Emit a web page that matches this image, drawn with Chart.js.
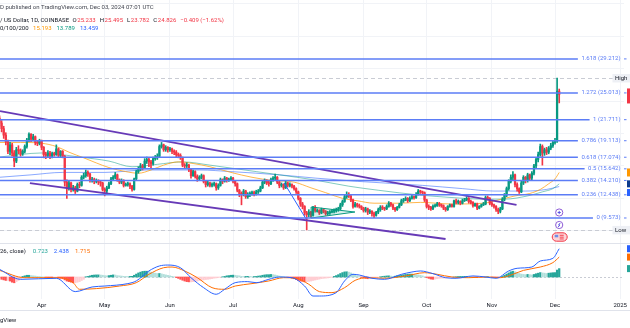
<!DOCTYPE html>
<html lang="en">
<head>
<meta charset="UTF-8">
<title>LINK / US Dollar, 1D</title>
<script src="https://cdn.jsdelivr.net/npm/chart.js"></script>
<style>
  html, body { margin: 0; padding: 0; background: #fff; }
  #wrap { width: 630px; height: 328px; }
</style>
</head>
<body>
<div id="wrap"><canvas id="chart" width="630" height="328"></canvas></div>
<script>
// x values are day numbers, day 0 = 2024-03-12
const monthTicks  = [20, 50, 81, 111, 142, 173, 203, 234, 264, 295];
const monthLabels = ['Apr', 'May', 'Jun', 'Jul', 'Aug', 'Sep', 'Oct', 'Nov', 'Dec', '2025'];

const opens = [
  21.9, 21.3, 20.6, 19.8, 19.0, 17.8, 18.6, 17.6, 16.6, 18.0,
  17.9, 17.5, 17.8, 18.4, 19.2, 19.9, 19.3, 19.6, 18.9, 18.8,
  19.1, 18.3, 17.4, 17.3, 17.6, 17.2, 17.5, 17.4, 18.1, 17.3,
  17.8, 17.2, 14.0, 13.3, 13.9, 13.1, 13.3, 12.9, 13.7, 13.6,
  14.6, 14.8, 15.2, 15.0, 14.2, 14.3, 14.1, 14.2, 14.0, 13.9,
  13.1, 12.9, 13.3, 13.8, 14.4, 14.6, 14.9, 14.3, 14.0, 14.2,
  13.6, 13.7, 13.8, 13.5, 13.1, 14.4, 15.3, 15.6, 16.0, 15.8,
  16.6, 16.8, 16.5, 16.3, 16.9, 17.0, 17.2, 18.4, 18.6, 18.0,
  18.3, 18.0, 18.1, 17.8, 17.7, 17.4, 17.3, 17.0, 16.1, 16.0,
  16.1, 15.6, 14.8, 15.3, 14.7, 14.4, 14.6, 14.8, 14.1, 13.7,
  13.9, 13.6, 13.7, 13.8, 13.3, 13.6, 14.3, 14.1, 14.5, 14.2,
  14.3, 14.5, 14.1, 13.8, 13.0, 12.6, 12.5, 12.9, 12.2, 12.5,
  12.6, 12.7, 12.5, 12.8, 12.9, 13.3, 14.0, 14.2, 13.9, 13.8,
  14.3, 14.5, 14.6, 14.0, 13.6, 13.7, 13.3, 13.9, 13.6, 13.7,
  13.5, 13.2, 12.8, 12.0, 11.3, 11.0, 10.2, 10.0, 10.3, 9.9,
  10.9, 10.5, 10.5, 10.2, 10.6, 10.4, 10.1, 10.2, 10.3, 10.4,
  10.5, 10.6, 10.7, 11.2, 11.6, 12.2, 12.5, 12.3, 11.8, 11.0,
  11.3, 11.1, 11.0, 10.8, 10.5, 10.7, 10.3, 10.4, 10.1, 9.9,
  10.3, 10.6, 10.9, 10.8, 10.7, 11.0, 11.4, 11.2, 10.8, 10.6,
  10.9, 11.2, 11.7, 11.8, 12.0, 11.7, 12.0, 12.2, 12.1, 12.5,
  12.9, 12.8, 12.7, 11.8, 11.0, 10.9, 10.7, 11.0, 11.1, 11.3,
  11.2, 11.1, 10.8, 10.6, 11.0, 11.2, 11.0, 11.7, 11.5, 11.6,
  11.4, 11.7, 11.8, 12.0, 11.6, 11.5, 11.1, 11.3, 10.8, 11.0,
  11.2, 11.3, 12.1, 12.0, 11.4, 11.2, 11.0, 10.6, 10.4, 10.7,
  11.9, 12.4, 13.2, 14.1, 14.6, 14.9, 13.7, 13.2, 12.8, 13.9,
  14.6, 14.2, 14.9, 14.5, 15.1, 16.0, 16.8, 17.4, 18.4, 17.6,
  18.0, 17.7, 18.2, 18.5, 18.9, 19.1, 25.233
];
const highs = [
  22.2, 21.6, 20.9, 20.1, 19.2, 18.9, 18.8, 17.9, 18.3, 18.5,
  18.1, 18.0, 18.6, 19.4, 20.1, 20.0, 19.9, 19.7, 19.1, 19.3,
  19.2, 18.4, 17.7, 17.9, 17.8, 17.7, 17.7, 18.6, 18.2, 17.9,
  17.9, 17.3, 14.3, 14.2, 14.0, 13.6, 13.5, 13.9, 14.0, 14.8,
  15.1, 15.5, 15.4, 15.1, 14.6, 14.5, 14.4, 14.3, 14.2, 14.0,
  13.3, 13.5, 14.0, 14.6, 14.8, 15.2, 15.0, 14.4, 14.4, 14.3,
  13.9, 14.0, 13.9, 13.6, 14.5, 15.5, 15.9, 16.3, 16.2, 16.9,
  17.1, 17.0, 16.7, 17.1, 17.3, 17.5, 18.6, 18.9, 18.7, 18.5,
  18.4, 18.3, 18.2, 18.0, 17.9, 17.6, 17.5, 17.1, 16.3, 16.4,
  16.2, 15.7, 15.5, 15.4, 14.9, 14.8, 15.0, 14.9, 14.2, 14.2,
  14.0, 13.9, 14.0, 13.9, 13.8, 14.5, 14.4, 14.7, 14.6, 14.5,
  14.7, 14.6, 14.2, 13.9, 13.1, 12.8, 13.1, 13.0, 12.7, 12.8,
  12.9, 12.9, 13.0, 13.1, 13.5, 14.2, 14.4, 14.3, 14.1, 14.5,
  14.7, 15.0, 14.7, 14.1, 13.9, 13.8, 14.1, 14.0, 13.9, 13.8,
  13.6, 13.3, 12.9, 12.1, 11.5, 11.1, 10.4, 10.6, 10.4, 11.0,
  11.1, 10.7, 10.6, 10.8, 10.7, 10.5, 10.4, 10.5, 10.6, 10.7,
  10.8, 10.9, 11.4, 11.8, 12.4, 12.8, 12.7, 12.4, 11.9, 11.5,
  11.4, 11.3, 11.1, 10.9, 10.9, 10.8, 10.6, 10.5, 10.3, 10.4,
  10.8, 11.1, 11.1, 10.9, 11.2, 11.6, 11.5, 11.3, 10.9, 11.0,
  11.4, 11.9, 12.0, 12.2, 12.1, 12.2, 12.4, 12.3, 12.7, 13.1,
  13.0, 12.9, 12.8, 11.9, 11.2, 11.0, 11.2, 11.3, 11.5, 11.5,
  11.3, 11.2, 10.9, 11.1, 11.3, 11.3, 11.8, 11.9, 11.8, 11.7,
  11.9, 12.0, 12.2, 12.1, 11.8, 11.6, 11.4, 11.4, 11.1, 11.3,
  11.5, 12.3, 12.3, 12.1, 11.6, 11.3, 11.1, 10.8, 10.9, 12.1,
  12.6, 13.4, 14.3, 14.9, 15.3, 15.0, 13.9, 13.3, 14.1, 14.8,
  14.7, 15.1, 15.0, 15.3, 16.2, 17.0, 17.7, 18.7, 18.6, 18.2,
  18.3, 18.4, 18.8, 19.1, 19.4, 26.86, 25.495
];
const lows = [
  20.9, 20.2, 19.4, 18.6, 17.5, 17.4, 17.2, 15.9, 16.4, 17.5,
  17.2, 17.3, 17.6, 18.2, 19.0, 19.0, 19.1, 18.6, 18.5, 18.6,
  18.0, 17.0, 16.9, 17.1, 16.9, 17.0, 17.2, 17.3, 17.1, 17.1,
  17.0, 13.5, 12.0, 13.0, 12.8, 12.9, 12.6, 12.8, 13.3, 13.5,
  14.4, 14.6, 14.7, 14.0, 14.0, 13.8, 13.9, 13.7, 13.5, 12.9,
  12.3, 12.7, 13.2, 13.7, 14.2, 14.4, 14.1, 13.8, 13.8, 13.4,
  13.5, 13.5, 13.2, 12.9, 13.0, 14.3, 15.1, 15.4, 15.5, 15.7,
  16.3, 15.9, 15.8, 16.1, 16.7, 16.8, 17.1, 18.2, 17.8, 17.8,
  17.7, 17.8, 17.5, 17.4, 17.1, 17.0, 16.8, 15.9, 15.7, 15.8,
  15.3, 14.5, 14.7, 14.5, 14.1, 14.3, 14.4, 13.9, 13.4, 13.5,
  13.4, 13.4, 13.5, 13.0, 13.1, 13.5, 13.8, 14.0, 14.0, 14.1,
  14.2, 13.9, 13.5, 12.8, 12.2, 11.2, 12.3, 12.0, 12.0, 12.2,
  12.4, 12.3, 12.4, 12.6, 12.8, 13.2, 13.8, 13.7, 13.5, 13.7,
  14.1, 14.3, 13.8, 13.3, 13.4, 13.1, 13.2, 13.4, 13.4, 13.3,
  13.0, 12.6, 11.8, 11.0, 10.7, 9.9, 8.1, 9.7, 9.6, 9.8,
  10.3, 10.3, 10.0, 10.1, 10.2, 9.9, 9.9, 10.0, 10.2, 10.2,
  10.3, 10.4, 10.6, 11.0, 11.5, 12.0, 12.1, 11.6, 10.8, 10.9,
  10.9, 10.8, 10.6, 10.3, 10.3, 10.0, 10.1, 9.8, 9.6, 9.8,
  10.1, 10.4, 10.6, 10.5, 10.6, 10.9, 11.0, 10.6, 10.4, 10.5,
  10.8, 11.1, 11.5, 11.7, 11.5, 11.6, 11.9, 11.9, 12.0, 12.4,
  12.6, 12.5, 11.6, 10.8, 10.6, 10.5, 10.6, 10.9, 11.0, 11.0,
  10.9, 10.6, 10.4, 10.5, 10.9, 10.9, 10.9, 11.3, 11.3, 11.2,
  11.3, 11.6, 11.7, 11.4, 11.3, 10.9, 11.0, 10.6, 10.7, 10.9,
  11.1, 11.2, 11.8, 11.2, 11.0, 10.8, 10.4, 10.1, 10.2, 10.6,
  11.7, 12.2, 13.0, 13.9, 14.3, 13.4, 12.9, 12.6, 12.7, 13.7,
  13.9, 14.0, 14.2, 14.3, 14.9, 15.8, 16.5, 17.2, 16.1, 17.3,
  17.4, 17.5, 18.0, 18.3, 18.7, 18.9, 23.782
];
const closes = [
  21.3, 20.6, 19.8, 19.0, 17.8, 18.6, 17.6, 16.6, 18.0, 17.9,
  17.5, 17.8, 18.4, 19.2, 19.9, 19.3, 19.6, 18.9, 18.8, 19.1,
  18.3, 17.4, 17.3, 17.6, 17.2, 17.5, 17.4, 18.1, 17.3, 17.8,
  17.2, 14.0, 13.3, 13.9, 13.1, 13.3, 12.9, 13.7, 13.6, 14.6,
  14.8, 15.2, 15.0, 14.2, 14.3, 14.1, 14.2, 14.0, 13.9, 13.1,
  12.9, 13.3, 13.8, 14.4, 14.6, 14.9, 14.3, 14.0, 14.2, 13.6,
  13.7, 13.8, 13.5, 13.1, 14.4, 15.3, 15.6, 16.0, 15.8, 16.6,
  16.8, 16.5, 16.3, 16.9, 17.0, 17.2, 18.4, 18.6, 18.0, 18.3,
  18.0, 18.1, 17.8, 17.7, 17.4, 17.3, 17.0, 16.1, 16.0, 16.1,
  15.6, 14.8, 15.3, 14.7, 14.4, 14.6, 14.8, 14.1, 13.7, 13.9,
  13.6, 13.7, 13.8, 13.3, 13.6, 14.3, 14.1, 14.5, 14.2, 14.3,
  14.5, 14.1, 13.8, 13.0, 12.6, 12.5, 12.9, 12.2, 12.5, 12.6,
  12.7, 12.5, 12.8, 12.9, 13.3, 14.0, 14.2, 13.9, 13.8, 14.3,
  14.5, 14.6, 14.0, 13.6, 13.7, 13.3, 13.9, 13.6, 13.7, 13.5,
  13.2, 12.8, 12.0, 11.3, 11.0, 10.2, 10.0, 10.3, 9.9, 10.9,
  10.5, 10.5, 10.2, 10.6, 10.4, 10.1, 10.2, 10.3, 10.4, 10.5,
  10.6, 10.7, 11.2, 11.6, 12.2, 12.5, 12.3, 11.8, 11.0, 11.3,
  11.1, 11.0, 10.8, 10.5, 10.7, 10.3, 10.4, 10.1, 9.9, 10.3,
  10.6, 10.9, 10.8, 10.7, 11.0, 11.4, 11.2, 10.8, 10.6, 10.9,
  11.2, 11.7, 11.8, 12.0, 11.7, 12.0, 12.2, 12.1, 12.5, 12.9,
  12.8, 12.7, 11.8, 11.0, 10.9, 10.7, 11.0, 11.1, 11.3, 11.2,
  11.1, 10.8, 10.6, 11.0, 11.2, 11.0, 11.7, 11.5, 11.6, 11.4,
  11.7, 11.8, 12.0, 11.6, 11.5, 11.1, 11.3, 10.8, 11.0, 11.2,
  11.3, 12.1, 12.0, 11.4, 11.2, 11.0, 10.6, 10.4, 10.7, 11.9,
  12.4, 13.2, 14.1, 14.6, 14.9, 13.7, 13.2, 12.8, 13.9, 14.6,
  14.2, 14.9, 14.5, 15.1, 16.0, 16.8, 17.4, 18.4, 17.6, 18.0,
  17.7, 18.2, 18.5, 18.9, 19.1, 25.235, 24.826
];

// moving averages, [day, value]
const ma50 = [[0, 18.9], [10, 18.9], [20, 18.8], [27, 18.4], [33, 17.7], [40, 17.0], [52, 15.8], [60, 15.3],
  [66, 15.1], [72, 15.5], [78, 16.1], [85, 16.5], [92, 16.3], [100, 15.9], [110, 15.2], [120, 14.6],
  [130, 14.2], [140, 14.0], [148, 13.3], [155, 12.7], [163, 12.0], [170, 11.7], [178, 11.4], [190, 11.4],
  [200, 11.5], [215, 11.3], [230, 11.4], [237, 11.8], [245, 12.3], [252, 12.6], [257, 13.1], [261, 13.8],
  [264, 14.4], [266, 15.193]];
const ma100 = [[0, 17.1], [20, 17.6], [38, 17.1], [52, 16.6], [63, 15.9], [75, 16.2], [87, 16.5], [100, 16.1],
  [111, 15.7], [122, 15.3], [133, 14.9], [149, 14.3], [166, 13.5], [180, 13.0], [200, 12.4], [215, 12.1],
  [230, 11.9], [240, 11.9], [251, 12.3], [258, 12.8], [263, 13.2], [266, 13.789]];
const ma200 = [[0, 14.6], [15, 14.9], [30, 15.2], [50, 15.2], [70, 15.5], [95, 15.5], [110, 15.3], [133, 14.9],
  [150, 14.5], [170, 14.1], [201, 13.6], [220, 13.2], [235, 12.9], [250, 12.9], [260, 13.1], [266, 13.459]];

// MACD (12, 26, close)
const macdLine = [[0, 0.66], [10, -0.2], [27, -0.11], [36, -1.26], [44, -0.86], [50, -0.78], [61, -0.57],
  [65, -0.34], [71, 0.52], [76, 0.95], [80, 1.03], [86, 0.80], [91, -0.06], [97, -0.92], [103, -1.49],
  [107, -1.06], [112, -0.49], [118, -0.40], [122, -0.49], [128, -0.2], [133, 0.0], [139, -0.06],
  [145, -0.78], [149, -1.64], [152, -1.64], [160, -1.35], [164, -0.34], [168, 0.23], [171, 0.17],
  [177, -0.11], [183, -0.2], [191, 0.23], [196, 0.43], [200, 0.52], [206, 0.29], [212, -0.06],
  [217, -0.11], [225, 0.09], [231, 0.0], [236, -0.11], [242, 0.52], [246, 0.75], [253, 0.86],
  [257, 1.38], [263, 1.61], [266, 2.438]];
const signalLine = [[0, 0.57], [12, -0.06], [29, -0.06], [35, -0.49], [38, -1.06], [46, -1.0], [57, -0.78],
  [65, -0.49], [71, 0.23], [78, 0.80], [82, 0.86], [88, 0.52], [94, -0.06], [101, -0.92], [107, -1.06],
  [112, -0.78], [120, -0.57], [128, -0.34], [135, -0.06], [141, -0.11], [147, -0.63], [152, -1.26],
  [158, -1.35], [164, -0.92], [169, -0.29], [175, -0.06], [183, -0.11], [193, 0.09], [202, 0.37],
  [208, 0.23], [215, 0.0], [223, -0.06], [232, 0.0], [238, -0.06], [244, 0.23], [249, 0.57],
  [257, 0.86], [263, 1.24], [266, 1.715]];
const macdHist = [
  -0.10, -0.20, -0.25, -0.30, -0.30, -0.35, -0.45, -0.50, -0.40, -0.30,
  -0.20, 0.05, 0.10, 0.15, 0.15, 0.12, 0.10, 0.08, 0.05, 0.04,
  0.02, 0.01, -0.03, -0.05, -0.08, -0.10, -0.10, -0.08, -0.10, -0.12,
  -0.15, -0.25, -0.35, -0.40, -0.45, -0.50, -0.50, -0.45, -0.40, -0.30,
  -0.20, 0.02, 0.05, 0.10, 0.15, 0.17, 0.18, 0.18, 0.17, 0.15,
  0.12, 0.10, 0.12, 0.15, 0.18, 0.17, 0.12, 0.10, 0.08, 0.06,
  0.05, 0.04, 0.05, 0.06, 0.15, 0.25, 0.35, 0.42, 0.48, 0.50,
  0.50, 0.47, 0.42, 0.38, 0.33, 0.30, 0.30, 0.27, 0.22, 0.18,
  0.14, 0.10, 0.06, 0.02, -0.05, -0.12, -0.20, -0.28, -0.35, -0.40,
  -0.42, -0.42, -0.40, -0.38, -0.35, -0.30, -0.28, -0.25, -0.22, -0.20,
  -0.17, -0.14, -0.10, -0.08, -0.05, -0.02, 0.02, 0.05, 0.10, 0.12,
  0.15, 0.16, 0.15, 0.12, 0.10, 0.06, 0.04, 0.05, 0.06, 0.05,
  0.03, 0.04, 0.05, 0.08, 0.10, 0.15, 0.18, 0.20, 0.20, 0.22,
  0.20, 0.17, 0.13, 0.08, 0.04, 0.02, 0.00, -0.02, -0.05, -0.10,
  -0.15, -0.22, -0.30, -0.35, -0.38, -0.42, -0.40, -0.38, -0.35, -0.30,
  -0.26, -0.22, -0.18, -0.14, -0.12, -0.10, -0.08, -0.05, -0.02, 0.05,
  0.12, 0.20, 0.30, 0.38, 0.44, 0.45, 0.42, 0.35, 0.25, 0.18,
  0.10, 0.04, -0.03, -0.08, -0.12, -0.15, -0.14, -0.12, -0.10, -0.06,
  -0.03, 0.02, 0.05, 0.07, 0.09, 0.10, 0.08, 0.06, 0.07, 0.10,
  0.13, 0.16, 0.19, 0.22, 0.24, 0.25, 0.25, 0.23, 0.20, 0.18,
  0.15, 0.10, 0.03, -0.05, -0.12, -0.18, -0.20, -0.18, -0.15, -0.12,
  -0.10, -0.10, -0.10, -0.08, -0.06, -0.03, 0.00, 0.02, 0.04, 0.05,
  0.05, 0.06, 0.06, 0.04, 0.02, -0.01, -0.03, -0.05, -0.05, -0.04,
  -0.02, 0.00, 0.03, 0.00, -0.03, -0.05, -0.06, -0.07, -0.03, 0.05,
  0.15, 0.25, 0.35, 0.45, 0.50, 0.45, 0.38, 0.30, 0.25, 0.22,
  0.20, 0.22, 0.20, 0.18, 0.22, 0.28, 0.33, 0.38, 0.35, 0.33,
  0.30, 0.33, 0.35, 0.37, 0.38, 0.60, 0.723
];

// fib retracement levels
const fibRatios = [1.618, 1.272, 1, 0.786, 0.618, 0.5, 0.382, 0.236, 0];
const fibPrices = [29.212, 25.013, 21.711, 19.113, 17.074, 15.642, 14.210, 12.438, 9.573];

// drawings, [day, price]
const channelTop    = [[0.24, 22.78], [245.7, 11.18]];
const channelBottom = [[14.45, 13.89], [212.0, 6.98]];
const dropLine      = [[135.3, 13.89], [145.7, 9.45]];
const pennant       = [[148.1, 10.93], [168.9, 10.31], [148.1, 9.57], [148.1, 10.93]];

const DARK = '#131722', UP = '#089981', DOWN = '#f23645';
const FIB = '#5b7cf6', ORANGE = '#ff9800', TEAL = '#089981', BLUE = '#2962ff', SIG = '#ff6d00';
const FONT = 'Roboto, "Liberation Sans", sans-serif';
const PANE_SPLIT = 243;

const idx = closes.map((_, i) => i);
const last = closes.length - 1;
const candleColor = idx.map(i => closes[i] >= opens[i] ? UP : DOWN);
const histColor = macdHist.map((v, i) => {
  const p = i ? macdHist[i - 1] : v;
  if (v >= 0) return v >= p ? '#26a69a' : '#b2dfdb';
  return v < p ? '#ff5252' : '#ffcdd2';
});
const pts = arr => arr.map(([x, y]) => ({ x, y }));
const tail = arr => arr[arr.length - 1][1];

function lineSet(label, data, color, width, axis, order, extra) {
  return Object.assign({
    type: 'line', label, data: pts(data), yAxisID: axis, borderColor: color,
    borderWidth: width, pointRadius: 0, fill: false, order
  }, extra || {});
}

function runs(ctx, parts, x, y) {
  for (const [text, color, gap] of parts) {
    ctx.fillStyle = color;
    ctx.fillText(text, x, y);
    x += ctx.measureText(text).width + gap;
  }
}

const overlay = {
  id: 'overlay',
  beforeDatasetsDraw(chart) {
    const { ctx, chartArea: a, scales: { y, m } } = chart;
    ctx.save();
    ctx.lineWidth = 1;
    // pane separator and bottom border
    ctx.strokeStyle = '#e0e3eb';
    ctx.beginPath();
    ctx.moveTo(a.left, PANE_SPLIT + 0.5); ctx.lineTo(630, PANE_SPLIT + 0.5);
    ctx.moveTo(0, 310.5); ctx.lineTo(630, 310.5);
    ctx.stroke();
    // high / low dashed lines
    ctx.strokeStyle = '#c9ccd4';
    ctx.setLineDash([4, 3]);
    for (const v of [Math.max(...highs), Math.min(...lows)]) {
      const py = Math.round(y.getPixelForValue(v)) + 0.5;
      ctx.beginPath(); ctx.moveTo(a.left, py); ctx.lineTo(a.right, py); ctx.stroke();
    }
    // MACD zero level
    ctx.setLineDash([2, 2]);
    const z = Math.round(m.getPixelForValue(0)) + 0.5;
    ctx.beginPath(); ctx.moveTo(a.left, z); ctx.lineTo(a.right, z); ctx.stroke();
    ctx.restore();
  },
  afterDatasetsDraw(chart) {
    const { ctx, chartArea: a, scales: { x, y, m } } = chart;
    ctx.save();
    ctx.font = '6px ' + FONT;
    ctx.textBaseline = 'middle';

    // fib levels with labels on the right
    const labelRight = a.right - 3.5;
    fibRatios.forEach((r, k) => {
      const py = y.getPixelForValue(fibPrices[k]);
      const text = `${r} (${fibPrices[k].toFixed(3)})`;
      const w = ctx.measureText(text).width;
      ctx.strokeStyle = FIB; ctx.lineWidth = 1.5;
      ctx.beginPath(); ctx.moveTo(a.left, py); ctx.lineTo(labelRight - w - 3.5, py); ctx.stroke();
      ctx.beginPath(); ctx.moveTo(a.right, py); ctx.lineTo(a.right + 2.5, py); ctx.lineWidth = 1; ctx.stroke();
      ctx.fillStyle = FIB; ctx.textAlign = 'right';
      ctx.fillText(text, labelRight, py);
    });

    // High / Low tags
    ctx.textAlign = 'left';
    for (const [txt, v] of [['High', Math.max(...highs)], ['Low', Math.min(...lows)]]) {
      const py = y.getPixelForValue(v);
      ctx.fillStyle = '#eef0f5';
      ctx.fillRect(612.5, py - 4, 18, 8.5);
      ctx.fillStyle = DARK;
      ctx.fillText(txt, 615, py + 0.5);
    }

    // coloured value tags on the price scale edge
    const tag = (py, h, color) => { ctx.fillStyle = color; ctx.fillRect(627, py - h / 2, 3, h); };
    tag(y.getPixelForValue(closes[last]) + 1.5, 15, DOWN);
    tag(y.getPixelForValue(tail(ma50)), 8, ORANGE);
    tag(y.getPixelForValue(tail(ma100)), 7, '#0c3a8c');
    tag(y.getPixelForValue(tail(ma200)) + 6, 7, BLUE);
    tag(m.getPixelForValue(tail(macdLine)), 7, BLUE);
    tag(m.getPixelForValue(tail(signalLine)), 7, SIG);
    tag(m.getPixelForValue(macdHist[last]), 7, '#26a69a');

    // event markers at the last bar
    const ex = x.getPixelForValue(last);
    ctx.lineWidth = 1;
    ctx.strokeStyle = '#8e5bd6';
    ctx.fillStyle = '#fff';
    for (const cy of [PANE_SPLIT - 30.5, PANE_SPLIT - 18]) {
      ctx.beginPath(); ctx.arc(ex, cy, 3.6, 0, Math.PI * 2); ctx.fill(); ctx.stroke();
    }
    ctx.strokeStyle = '#5a55e0';
    ctx.beginPath();
    ctx.moveTo(ex - 1.6, PANE_SPLIT - 30.5); ctx.lineTo(ex + 1.6, PANE_SPLIT - 30.5);
    ctx.moveTo(ex, PANE_SPLIT - 32.1); ctx.lineTo(ex, PANE_SPLIT - 28.9);
    ctx.moveTo(ex + 1, PANE_SPLIT - 20); ctx.lineTo(ex - 0.6, PANE_SPLIT - 18);
    ctx.lineTo(ex + 0.6, PANE_SPLIT - 18); ctx.lineTo(ex - 1, PANE_SPLIT - 16);
    ctx.stroke();
    const py3 = PANE_SPLIT - 6;
    ctx.fillStyle = '#fcd3d7'; ctx.strokeStyle = '#f23645';
    ctx.beginPath(); ctx.roundRect(ex - 7, py3 - 4.2, 15, 8.4, 4.2); ctx.fill(); ctx.stroke();
    ctx.fillStyle = '#6d8de8'; ctx.fillRect(ex - 4.5, py3 - 2.2, 3.5, 2.5);
    ctx.fillStyle = '#f23645';
    ctx.fillRect(ex + 0.5, py3 - 2.2, 4, 0.9); ctx.fillRect(ex + 0.5, py3 - 0.3, 4, 0.9);
    ctx.fillRect(ex + 0.5, py3 + 1.5, 4, 0.9);
    ctx.restore();
  },
  afterDraw(chart) {
    const { ctx } = chart;
    ctx.save();
    ctx.font = '6px ' + FONT;
    ctx.textBaseline = 'middle';
    ctx.textAlign = 'left';
    const o = opens[last], h = highs[last], l = lows[last], c = closes[last], pc = closes[last - 1];
    const chg = (c - pc).toFixed(3).replace('-', '\u2212');
    const pct = ((c - pc) / pc * 100).toFixed(2).replace('-', '\u2212');
    runs(ctx, [['D published on TradingView.com, Dec 03, 2024 07:01 UTC', '#434651', 0]], 0, 7.3);
    runs(ctx, [
      ['/ US Dollar, 1D, COINBASE', DARK, 3.5],
      ['O', DARK, 0.6], [o.toFixed(3), DOWN, 4],
      ['H', DARK, 0.6], [h.toFixed(3), DOWN, 4],
      ['L', DARK, 0.6], [l.toFixed(3), DOWN, 4],
      ['C', DARK, 0.6], [c.toFixed(3), DOWN, 4],
      [`${chg} (${pct}%)`, DOWN, 0]
    ], 0, 20.7);
    runs(ctx, [
      ['0/100/200', DARK, 4.5],
      [tail(ma50).toFixed(3), ORANGE, 5],
      [tail(ma100).toFixed(3), TEAL, 5],
      [tail(ma200).toFixed(3), BLUE, 0]
    ], 0, 28.7);
    runs(ctx, [
      ['26, close)', DARK, 7],
      [macdHist[last].toFixed(3), '#26a69a', 6],
      [tail(macdLine).toFixed(3), BLUE, 6],
      [tail(signalLine).toFixed(3), SIG, 0]
    ], 0, 251);
    runs(ctx, [['gView', DARK, 0]], 0, 320);
    ctx.restore();
  }
};

new Chart(document.getElementById('chart'), {
  type: 'bar',
  data: {
    datasets: [
      lineSet('MA 50', ma50, 'rgba(255,152,0,0.7)', 1, 'y', 12, { cubicInterpolationMode: 'monotone' }),
      lineSet('MA 100', ma100, 'rgba(8,153,129,0.5)', 1, 'y', 12, { cubicInterpolationMode: 'monotone' }),
      lineSet('MA 200', ma200, 'rgba(41,98,255,0.55)', 1, 'y', 12, { cubicInterpolationMode: 'monotone' }),
      {
        type: 'bar', label: 'wick', yAxisID: 'y', order: 9, grouped: false, barThickness: 1,
        data: idx.map(i => ({ x: i, y: [lows[i], highs[i]] })), backgroundColor: candleColor
      },
      {
        type: 'bar', label: 'body', yAxisID: 'y', order: 8, grouped: false, barThickness: 1.6, minBarLength: 1,
        data: idx.map(i => ({ x: i, y: [opens[i], closes[i]] })), backgroundColor: candleColor
      },
      {
        type: 'bar', label: 'Histogram', yAxisID: 'm', order: 10, grouped: false, barThickness: 1.6,
        data: idx.map(i => ({ x: i, y: macdHist[i] })), backgroundColor: histColor
      },
      lineSet('MACD', macdLine, BLUE, 1, 'm', 4, { cubicInterpolationMode: 'monotone' }),
      lineSet('Signal', signalLine, SIG, 1, 'm', 5, { cubicInterpolationMode: 'monotone' }),
      lineSet('channel top', channelTop, '#673ab7', 1.8, 'y', 2),
      lineSet('channel bottom', channelBottom, '#673ab7', 1.8, 'y', 2),
      lineSet('drop', dropLine, BLUE, 1, 'y', 2),
      lineSet('pennant', pennant, UP, 1, 'y', 2, { fill: 'shape', backgroundColor: 'rgba(8,153,129,0.15)' })
    ]
  },
  options: {
    responsive: false,
    animation: false,
    events: [],
    layout: { padding: { left: 0, right: 4, top: 0, bottom: 0 } },
    plugins: { legend: { display: false }, tooltip: { enabled: false } },
    scales: {
      x: {
        type: 'linear', position: 'bottom', min: 0.237, max: 296.8, offset: false,
        afterBuildTicks: s => { s.ticks = monthTicks.map(v => ({ value: v })); },
        afterFit: s => { s.height = 29; },
        grid: { color: '#f1f3f7', drawTicks: false, offset: false },
        border: { display: false },
        ticks: {
          autoSkip: false, maxRotation: 0, padding: 3, color: DARK,
          font: { family: FONT, size: 6 },
          callback: (v, i) => monthLabels[i]
        }
      },
      y: {
        type: 'linear', position: 'right', min: -0.427, max: 36.486,
        afterBuildTicks: s => { s.ticks = [8, 12, 16, 20, 24, 28, 32, 36].map(v => ({ value: v })); },
        afterFit: s => { s.width = 0; },
        grid: { color: '#f1f3f7', drawTicks: false },
        border: { display: false },
        ticks: { display: false }
      },
      m: { type: 'linear', display: false, min: -1.897, max: 23.879 }
    }
  },
  plugins: [overlay]
});
</script>
</body>
</html>
